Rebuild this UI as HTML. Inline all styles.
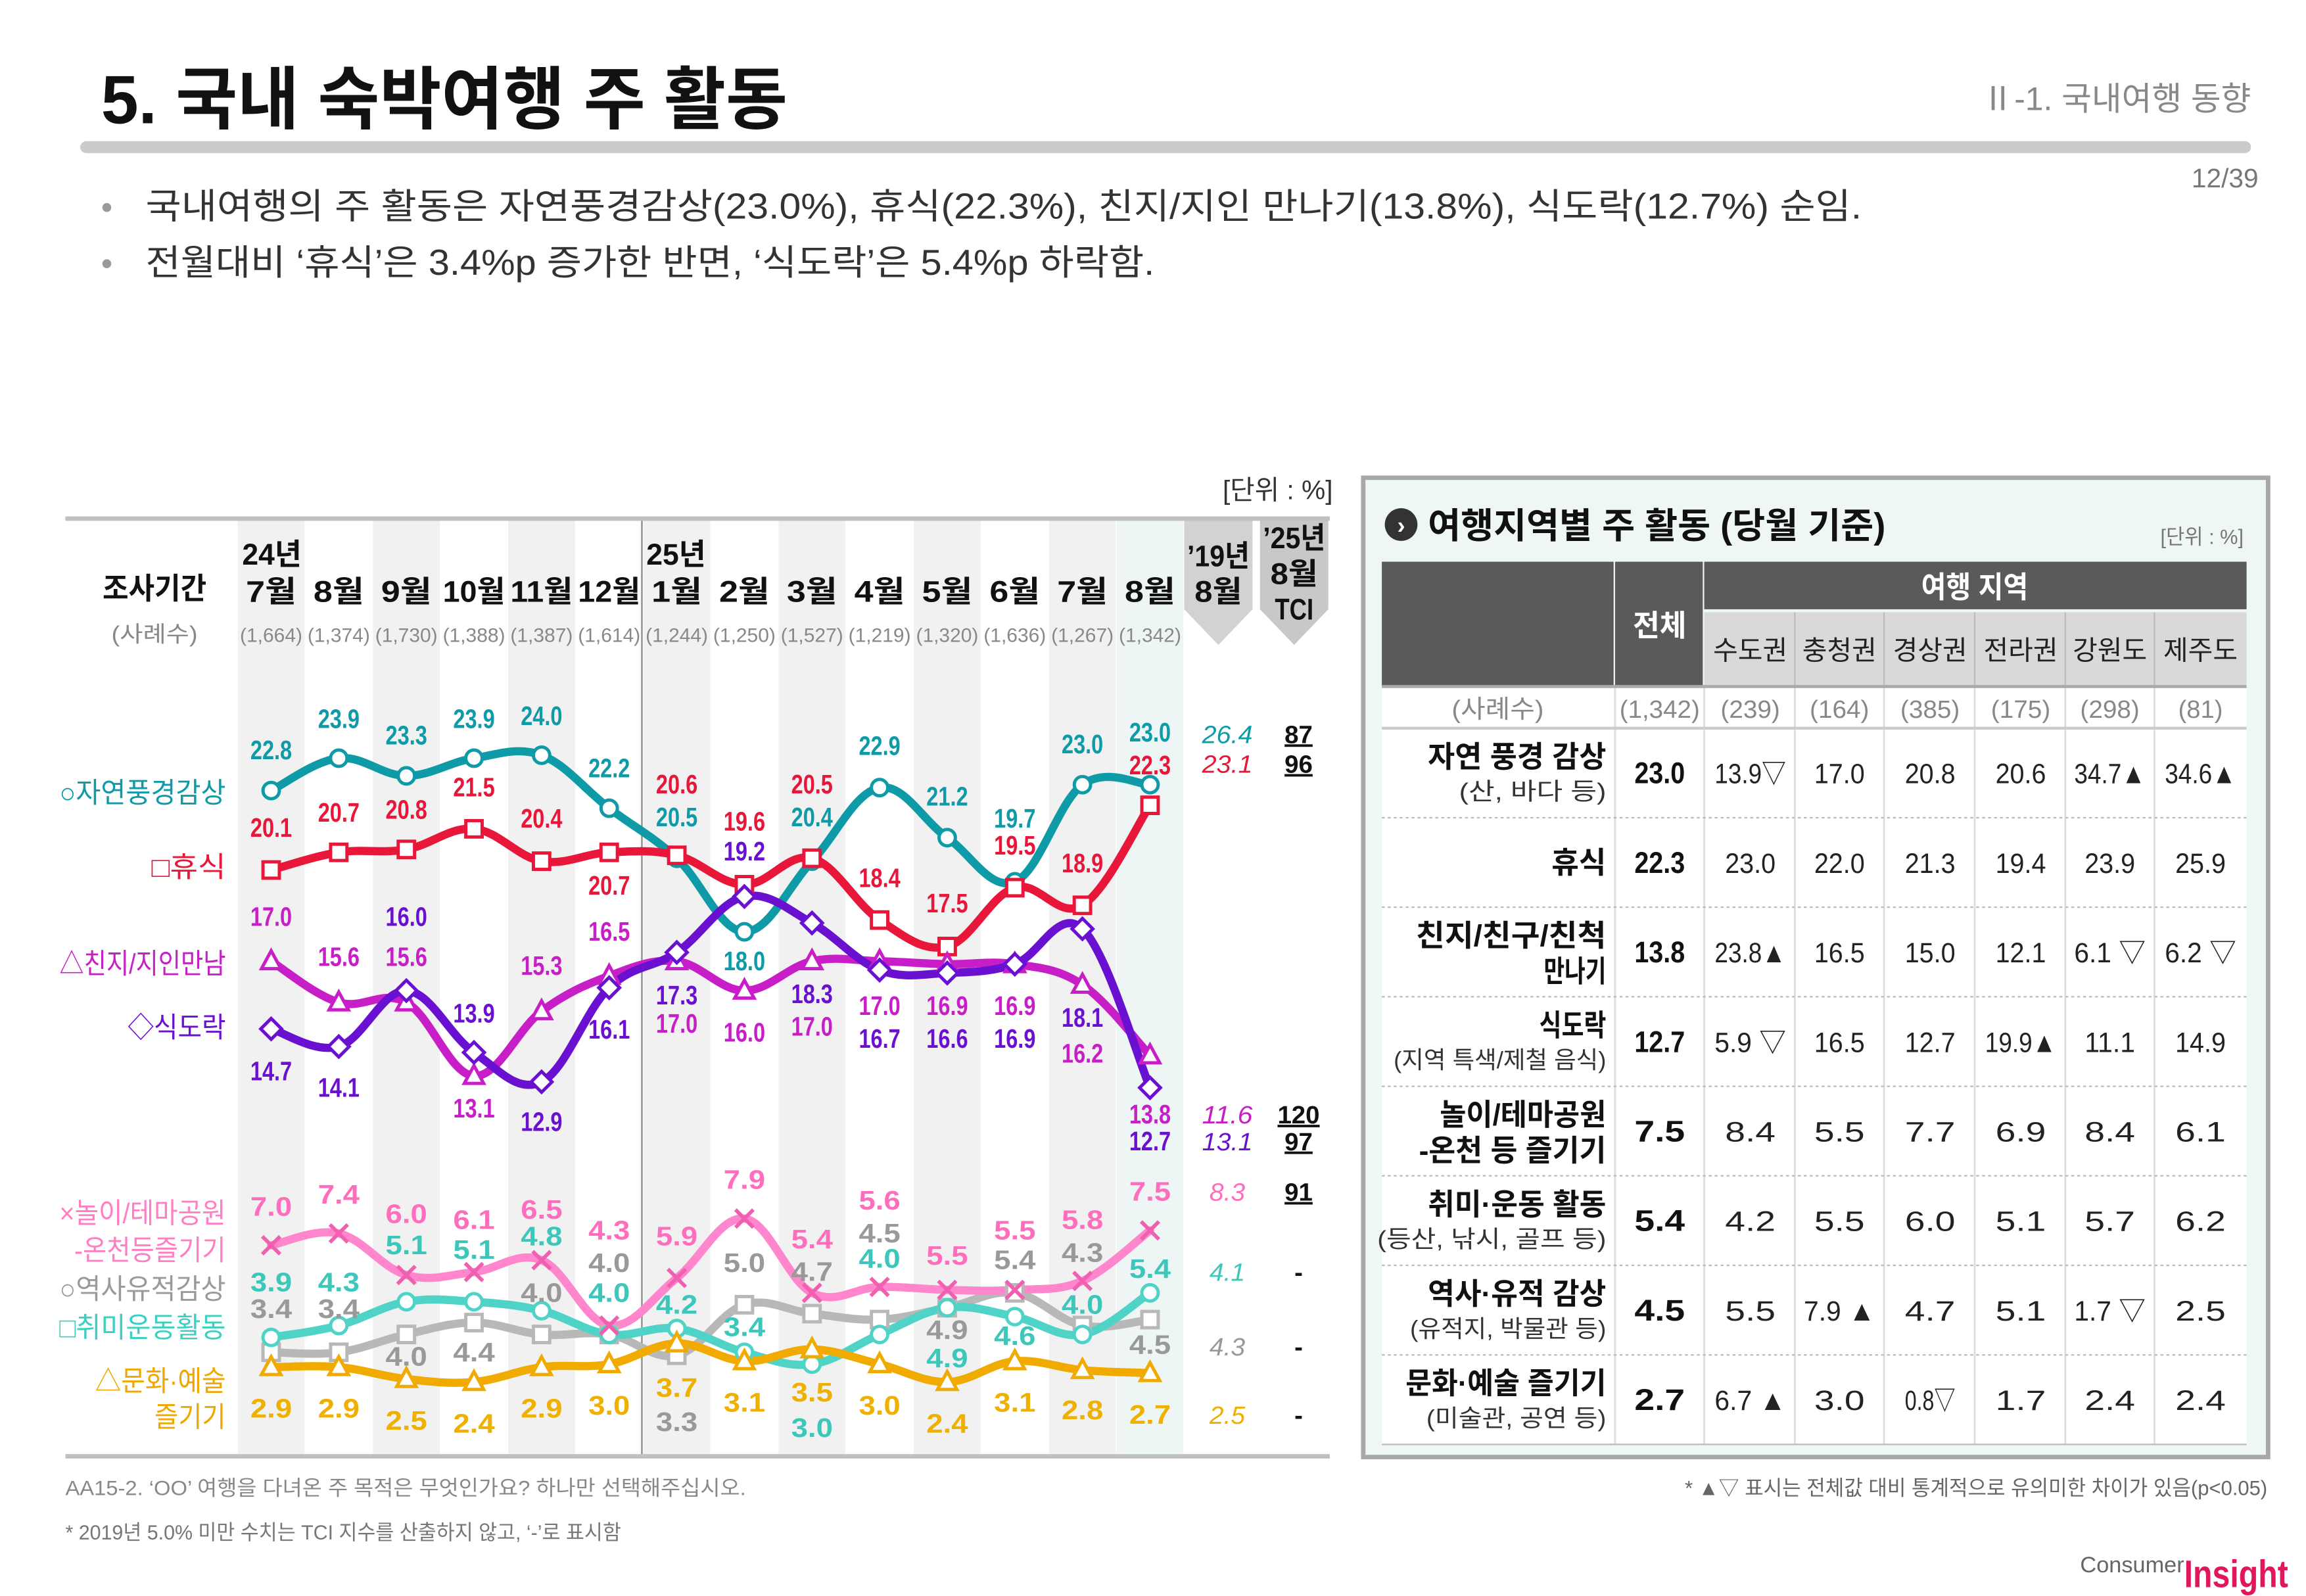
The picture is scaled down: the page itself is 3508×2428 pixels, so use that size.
<!DOCTYPE html>
<html><head><meta charset="utf-8">
<style>
html,body{margin:0;padding:0;background:#fff;}
svg{display:block;font-family:"Liberation Sans","Noto Sans CJK KR",sans-serif;}
</style></head>
<body>
<svg id="s" width="3508" height="2428" viewBox="0 0 1552 1074" preserveAspectRatio="none" xmlns="http://www.w3.org/2000/svg">
<rect width="1552" height="1074" fill="#fff"/>
<text x="68" y="83" font-size="46" font-weight="bold" fill="#111" textLength="462" lengthAdjust="spacingAndGlyphs">5. 국내 숙박여행 주 활동</text>
<text x="1515" y="74" font-size="22" fill="#888" text-anchor="end">Ⅱ-1. 국내여행 동향</text>
<rect x="54" y="95" width="1461" height="8" rx="4" fill="#cbcbcb"/>
<text x="1520" y="126" font-size="18" fill="#777" text-anchor="end">12/39</text>
<text x="68" y="147" font-size="22" fill="#999">•</text>
<text x="98" y="147" font-size="24" fill="#333" textLength="1155" lengthAdjust="spacingAndGlyphs">국내여행의 주 활동은 자연풍경감상(23.0%), 휴식(22.3%), 친지/지인 만나기(13.8%), 식도락(12.7%) 순임.</text>
<text x="68" y="185" font-size="22" fill="#999">•</text>
<text x="98" y="185" font-size="24" fill="#333" textLength="679" lengthAdjust="spacingAndGlyphs">전월대비 ‘휴식’은 3.4%p 증가한 반면, ‘식도락’은 5.4%p 하락함.</text>

<g id="chart"></g>

<text x="897" y="336" font-size="18" fill="#333" text-anchor="end">[단위 : %]</text>
<text x="44" y="1006" font-size="14" fill="#888" textLength="458" lengthAdjust="spacingAndGlyphs">AA15-2. ‘OO’ 여행을 다녀온 주 목적은 무엇인가요? 하나만 선택해주십시오.</text>
<text x="44" y="1036" font-size="14" fill="#777" textLength="374" lengthAdjust="spacingAndGlyphs">* 2019년 5.0% 미만 수치는 TCI 지수를 산출하지 않고, ‘-’로 표시함</text>
<text x="1526" y="1006" font-size="14" fill="#666" text-anchor="end" textLength="392" lengthAdjust="spacingAndGlyphs">* ▲▽ 표시는 전체값 대비 통계적으로 유의미한 차이가 있음(p&lt;0.05)</text>
<text x="1400" y="1058" font-size="15" fill="#666" textLength="70" lengthAdjust="spacingAndGlyphs">Consumer</text>
<text x="1470" y="1068" font-size="26" font-weight="bold" fill="#e0185a" textLength="70" lengthAdjust="spacingAndGlyphs">Insight</text>

<g id="table"></g>
</svg>
<script>
var NS="http://www.w3.org/2000/svg";
function el(p,tag,a,txt){var e=document.createElementNS(NS,tag);for(var k in a)e.setAttribute(k,a[k]);if(txt!==undefined)e.textContent=txt;p.appendChild(e);return e;}
var C=document.getElementById('chart');
var cx=[];for(var i=0;i<14;i++)cx.push(182.5+45.5*i);
// bands
for(var i=0;i<14;i++){var f=null;if(i==13)f='#eef6f5';else if(i%2==0)f='#f1f1f1';if(f)el(C,'rect',{x:cx[i]-22.5,y:349,width:45,height:631,fill:f});}
el(C,'line',{x1:432,y1:349,x2:432,y2:980,stroke:'#999','stroke-width':1.2});
el(C,'path',{d:'M797,349H843V410L820,434L797,410Z',fill:'#d2d2d2'});
el(C,'path',{d:'M848,349H894V410L871,434L848,410Z',fill:'#c8c8c8'});
el(C,'line',{x1:44,y1:349,x2:895,y2:349,stroke:'#c0c0c0','stroke-width':3});
el(C,'line',{x1:44,y1:980,x2:895,y2:980,stroke:'#c0c0c0','stroke-width':3});
// header
function T(x,y,s,fill,t,o){o=o||{};var a={x:x,y:y,'font-size':s,fill:fill,'text-anchor':o.anchor||'middle'};if(o.b)a['font-weight']='bold';if(o.i)a['font-style']='italic';if(o.tl){a.textLength=o.tl;a.lengthAdjust='spacingAndGlyphs';}if(o.u)a['text-decoration']='underline';return el(o.p||C,'text',a,t);}
T(104,403,20,'#111','조사기간',{b:1,tl:70});
T(104,432,15,'#888','(사례수)',{tl:58});
T(183,380,20,'#111','24년',{b:1,tl:40});T(455,380,20,'#111','25년',{b:1,tl:40});
var mon=['7월','8월','9월','10월','11월','12월','1월','2월','3월','4월','5월','6월','7월','8월'];
var ns=['1,664','1,374','1,730','1,388','1,387','1,614','1,244','1,250','1,527','1,219','1,320','1,636','1,267','1,342'];
for(var i=0;i<14;i++){T(cx[i],405,20,'#111',mon[i],{b:1,tl:mon[i].length>2?42:34});T(cx[i],432,13,'#888','('+ns[i]+')',{tl:42});}
T(820,381,20,'#111','’19년',{b:1,tl:42});T(820,405,20,'#111','8월',{b:1,tl:32});
T(871,369,20,'#111','’25년',{b:1,tl:42});T(871,393,20,'#111','8월',{b:1,tl:32});T(871,417,20,'#111','TCI',{b:1,tl:26});
// left labels
var LL=[[540,'#0e9aa7','○자연풍경감상',112],[590,'#e8173a','□휴식',50],[655,'#c81ec8','△친지/지인만남',112],[698,'#6a10d0','◇식도락',66],[823,'#ff7ec4','×놀이/테마공원',112],[848,'#ff7ec4','-온천등즐기기',102],[874,'#9a9a9a','○역사유적감상',112],[900,'#3ccfc2','□취미운동활동',112],[936,'#f0a800','△문화·예술',88],[960,'#f0a800','즐기기',48]];
LL.forEach(function(l){T(152,l[0],19,l[1],l[2],{anchor:'end',tl:l[3]});});
// data
var uy=function(v){return 532-(v-22.8)*19.8;}, ly=function(v){return 838-(v-7)*20;};
var S=[
 {c:'#0e9aa7',m:'o',f:uy,d:[22.8,23.9,23.3,23.9,24.0,22.2,20.5,18.0,20.4,22.9,21.2,19.7,23.0,23.0],
  L:[511,490,501,490,488,523,556,653,556,508,542,557,507,499]},
 {c:'#e8173a',m:'s',f:uy,d:[20.1,20.7,20.8,21.5,20.4,20.7,20.6,19.6,20.5,18.4,17.5,19.5,18.9,22.3],
  L:[563,553,551,536,557,602,534,559,534,597,614,575,587,521]},
 {c:'#c81ec8',m:'t',f:uy,d:[17.0,15.6,15.6,13.1,15.3,16.5,17.0,16.0,17.0,17.0,16.9,16.9,16.2,13.8],
  L:[623,650,650,752,656,633,695,701,697,683,683,683,715,756]},
 {c:'#6a10d0',m:'d',f:uy,d:[14.7,14.1,16.0,13.9,12.9,16.1,17.3,19.2,18.3,16.7,16.6,16.9,18.1,12.7],
  L:[727,738,623,688,761,699,676,579,675,705,705,705,691,774]},
 {c:'#b8b8b8',m:'s',f:ly,lc:'#999',d:[3.4,3.4,4.0,4.4,4.0,4.0,3.3,5.0,4.7,4.5,4.9,5.4,4.3,4.5],
  L:[887,887,919,916,876,856,963,856,862,836,901,854,849,911]},
 {c:'#4fd3c6',m:'o',f:ly,lc:'#3cc7ba',d:[3.9,4.3,5.1,5.1,4.8,4.0,4.2,3.4,3.0,4.0,4.9,4.6,4.0,5.4],
  L:[869,869,844,847,838,876,884,899,967,853,920,905,884,860]},
 {c:'#f0aa00',m:'t',f:ly,lc:'#f0b000',d:[2.9,2.9,2.5,2.4,2.9,3.0,3.7,3.1,3.5,3.0,2.4,3.1,2.8,2.7],
  L:[954,954,962,964,954,952,940,950,943,952,964,950,955,958]},
 {c:'#ff86cc',m:'x',f:ly,lc:'#ff6ebc',d:[7.0,7.4,6.0,6.1,6.5,4.3,5.9,7.9,5.4,5.6,5.5,5.5,5.8,7.5],
  L:[818,810,823,827,820,834,838,800,840,814,851,834,827,808]}
];
function curve(p){var d='M'+p[0][0]+','+p[0][1];for(var i=0;i<p.length-1;i++){var p0=p[i-1]||p[i],p1=p[i],p2=p[i+1],p3=p[i+2]||p2;var t=0.18;d+=' C'+(p1[0]+(p2[0]-p0[0])*t)+','+(p1[1]+(p2[1]-p0[1])*t)+' '+(p2[0]-(p3[0]-p1[0])*t)+','+(p2[1]-(p3[1]-p1[1])*t)+' '+p2[0]+','+p2[1];}return d;}
var G1=el(C,'g',{}),G2=el(C,'g',{}),G3=el(C,'g',{});
S.forEach(function(s){
 var pts=s.d.map(function(v,i){return [cx[i],s.f(v)];});
 el(G1,'path',{d:curve(pts),fill:'none',stroke:s.c,'stroke-width':5.5,'stroke-linecap':'round'});
 pts.forEach(function(p,i){var x=p[0],y=p[1],a={fill:'#fff',stroke:s.c,'stroke-width':2.2};
  if(s.m=='o'){a.cx=x;a.cy=y;a.r=5.5;el(G2,'circle',a);}
  else if(s.m=='s'){a.x=x-5.5;a.y=y-5.5;a.width=11;a.height=11;el(G2,'rect',a);}
  else if(s.m=='t'){a.d='M'+x+','+(y-7)+'L'+(x+6.5)+','+(y+5)+'L'+(x-6.5)+','+(y+5)+'Z';el(G2,'path',a);}
  else if(s.m=='d'){a.d='M'+x+','+(y-7)+'L'+(x+7)+','+y+'L'+x+','+(y+7)+'L'+(x-7)+','+y+'Z';el(G2,'path',a);}
  else {el(G2,'path',{d:'M'+(x-6)+','+(y-6)+'L'+(x+6)+','+(y+6)+'M'+(x+6)+','+(y-6)+'L'+(x-6)+','+(y+6),stroke:'#f060b0','stroke-width':2.5,fill:'none'});}
  T(x,s.L[i],18,s.lc||s.c,s.d[i].toFixed(1),{b:1,p:G3,tl:28});
 });
});
// '19 & TCI
var R=[[500,'#0e9aa7','26.4','87'],[520,'#e8173a','23.1','96'],[756,'#c81ec8','11.6','120'],[774,'#6a10d0','13.1','97'],[808,'#ff6ebc','8.3','91'],[862,'#3cc7ba','4.1','-'],[912,'#999','4.3','-'],[958,'#f0b000','2.5','-']];
R.forEach(function(r){T(826,r[0],17,r[1],r[2],{i:1,tl:r[2].length>3?34:24});T(874,r[0],17,'#111',r[3],{b:1,u:r[3]!='-'});});

// table
var TB=document.getElementById('table');
el(TB,'rect',{x:917.5,y:321.5,width:609,height:659,fill:'#eff6f6',stroke:'#a8a8a8','stroke-width':3});
el(TB,'circle',{cx:943,cy:353,r:11,fill:'#333'});
T(943,359,16,'#fff','›',{b:1,p:TB});
T(961,362,24,'#111','여행지역별 주 활동 (당월 기준)',{b:1,anchor:'start',p:TB,tl:308});
T(1510,366,14,'#777','[단위 : %]',{anchor:'end',p:TB,tl:56});
el(TB,'rect',{x:930,y:462,width:582,height:510,fill:'#fff'});
el(TB,'rect',{x:930,y:378,width:156,height:84,fill:'#5a5a5a'});
el(TB,'rect',{x:1087,y:378,width:59,height:84,fill:'#5a5a5a'});
el(TB,'rect',{x:1147,y:378,width:365,height:32,fill:'#5a5a5a'});
el(TB,'rect',{x:1147,y:412,width:365,height:50,fill:'#d9d9d9'});
T(1117,428,20,'#fff','전체',{b:1,p:TB,tl:36});
T(1329,402,20,'#fff','여행 지역',{b:1,p:TB,tl:72});
var colx=[930,1087,1147,1208,1268,1329,1390,1450,1511];
var cc=[1117,1178,1238,1299,1360,1420,1481];
['수도권','충청권','경상권','전라권','강원도','제주도'].forEach(function(t,i){T(cc[i+1],444,18,'#222',t,{p:TB,tl:50});});
for(var i=3;i<8;i++)el(TB,'line',{x1:colx[i],y1:412,x2:colx[i],y2:462,stroke:'#bbb','stroke-width':1});
for(var i=1;i<8;i++)el(TB,'line',{x1:colx[i],y1:462,x2:colx[i],y2:972,stroke:'#ddd','stroke-width':1.2});
el(TB,'line',{x1:930,y1:462,x2:1512,y2:462,stroke:'#aaa','stroke-width':2});
el(TB,'line',{x1:930,y1:490,x2:1512,y2:490,stroke:'#ccc','stroke-width':2});
T(1008,483,17,'#888','(사례수)',{p:TB,tl:62});
['1,342','239','164','385','175','298','81'].forEach(function(t,i){T(cc[i],483,17,'#888','('+t+')',{p:TB,tl:t.length>3?54:t.length>2?40:30});});
var rows=[
 ['자연 풍경 감상','(산, 바다 등)','23.0',['13.9▽','17.0','20.8','20.6','34.7▲','34.6▲']],
 ['휴식','','22.3',['23.0','22.0','21.3','19.4','23.9','25.9']],
 ['친지/친구/친척','만나기','13.8',['23.8▲','16.5','15.0','12.1','6.1 ▽','6.2 ▽']],
 ['식도락','(지역 특색/제철 음식)','12.7',['5.9 ▽','16.5','12.7','19.9▲','11.1','14.9']],
 ['놀이/테마공원','-온천 등 즐기기','7.5',['8.4','5.5','7.7','6.9','8.4','6.1']],
 ['취미·운동 활동','(등산, 낚시, 골프 등)','5.4',['4.2','5.5','6.0','5.1','5.7','6.2']],
 ['역사·유적 감상','(유적지, 박물관 등)','4.5',['5.5','7.9 ▲','4.7','5.1','1.7 ▽','2.5']],
 ['문화·예술 즐기기','(미술관, 공연 등)','2.7',['6.7 ▲','3.0','0.8▽','1.7','2.4','2.4']]
];
var rh=60.25;
rows.forEach(function(r,k){var y0=490+k*rh,cy=y0+rh/2;
 if(k>0)el(TB,'line',{x1:930,y1:y0,x2:1512,y2:y0,stroke:'#bbb','stroke-width':1,'stroke-dasharray':'2,2'});
 var bold2=(k==2||k==4);
 if(r[1]==''){T(1081,cy+7,20,'#111',r[0],{b:1,anchor:'end',p:TB});}
 else if(bold2){T(1081,cy-4,20,'#111',r[0],{b:1,anchor:'end',p:TB,tl:r[0].length*16});T(1081,cy+20,20,'#111',r[1],{b:1,anchor:'end',p:TB,tl:r[1].length*14});}
 else {T(1081,cy-4,20,'#111',r[0],{b:1,anchor:'end',p:TB,tl:r[0].length*15});T(1081,cy+18,16,'#333',r[1],{anchor:'end',p:TB,tl:r[1].length*11});}
 T(cc[0],cy+7,20,'#111',r[2],{b:1,p:TB,tl:34});
 r[3].forEach(function(v,i){T(cc[i+1],cy+7,19,'#222',v,{p:TB,tl:v.length>4?48:34});});
});
el(TB,'line',{x1:930,y1:972,x2:1512,y2:972,stroke:'#bbb','stroke-width':1});
</script>
</body></html>
